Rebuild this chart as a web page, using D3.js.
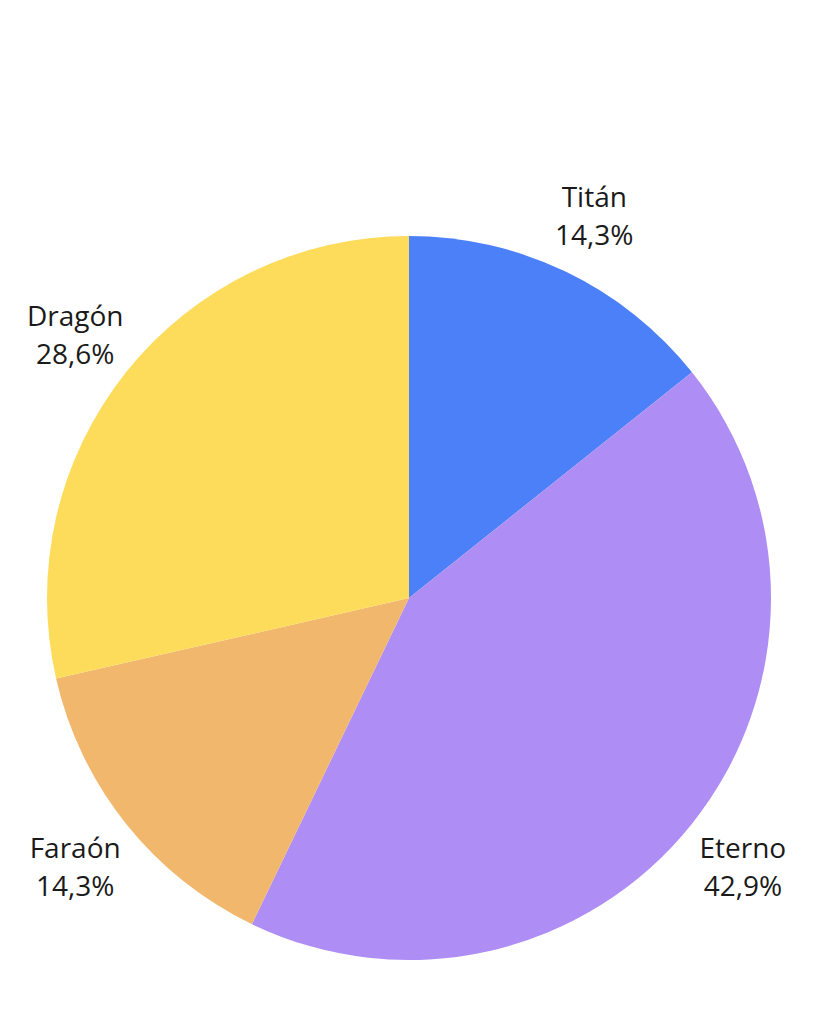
<!DOCTYPE html>
<html>
<head>
<meta charset="utf-8">
<script src="https://cdn.jsdelivr.net/npm/d3@7"></script>
<style>
  body { margin: 0; background: #fff; }
  text { font-family: "Open Sans", sans-serif; fill: #1a1a1a; }
</style>
</head>
<body>
<script>
const width = 819;
const height = 1024;
const cx = 409;
const cy = 598;
const radius = 362;
const labelRadius = 427;

// chart data
const categories = ['Titán', 'Eterno', 'Faraón', 'Dragón'];
const values = [1, 3, 1, 2];
const percentLabels = ['14,3%', '42,9%', '14,3%', '28,6%'];
const colors = ['#4b80f8', '#ae8df5', '#f1b76d', '#fedc5b'];

const data = categories.map((c, i) => ({name: c, value: values[i], pct: percentLabels[i], color: colors[i]}));

const svg = d3.select("body").append("svg")
    .attr("width", width)
    .attr("height", height);

const pie = d3.pie()
    .value(d => d.value)
    .sort(null);

const arc = d3.arc()
    .innerRadius(0)
    .outerRadius(radius);

const g = svg.append("g")
    .attr("transform", `translate(${cx},${cy})`);

const arcs = pie(data);

g.selectAll("path")
    .data(arcs)
    .join("path")
    .attr("d", arc)
    .attr("fill", d => d.data.color);

// labels placed along the middle angle of each slice
const labelArc = d3.arc()
    .innerRadius(labelRadius)
    .outerRadius(labelRadius);

const label = g.selectAll("g.label")
    .data(arcs)
    .join("g")
    .attr("class", "label")
    .attr("transform", d => `translate(${labelArc.centroid(d)})`);

label.append("text")
    .attr("text-anchor", "middle")
    .attr("y", -6)
    .attr("font-size", 28)
    .text(d => d.data.name);

label.append("text")
    .attr("text-anchor", "middle")
    .attr("y", 32)
    .attr("font-size", 28)
    .text(d => d.data.pct);
</script>
</body>
</html>
